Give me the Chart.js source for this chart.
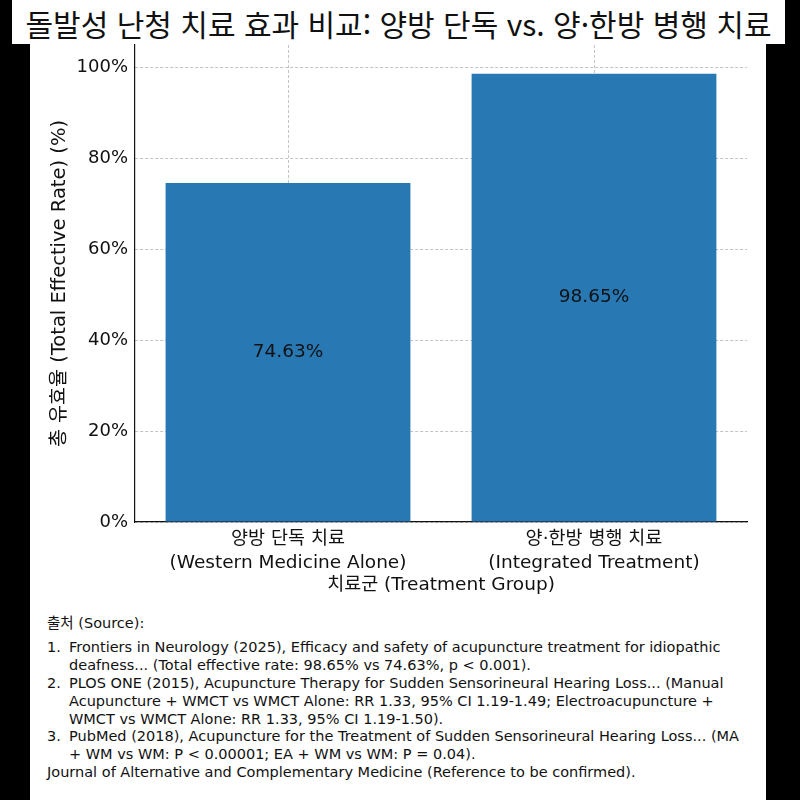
<!DOCTYPE html>
<html lang="ko">
<head>
    <meta charset="UTF-8">
    <title>돌발성 난청 치료 효과 비교</title>
    <style>
        body {
            margin: 0;
            width: 800px;
            height: 800px;
            background: #000;
            overflow: hidden;
            position: relative;
            font-family: "DejaVu Sans", "Noto Sans CJK KR", sans-serif;
            color: #111;
        }
        .title-box {
            position: absolute;
            left: 12px;
            top: 0;
            width: 773px;
            height: 44px;
            background: #fff;
            text-align: center;
            line-height: 46px;
            font-family: "Noto Sans CJK KR", sans-serif;
            font-size: 30px;
            white-space: nowrap;
        }
        .panel {
            position: absolute;
            left: 30px;
            top: 44px;
            width: 736px;
            height: 756px;
            background: #fff;
        }
        #chart {
            position: absolute;
            left: 0;
            top: 0;
        }
        .sources {
            position: absolute;
            left: 17px;
            top: 571px;
            width: 700px;
            font-size: 14.5px;
            line-height: 17.9px;
        }
        .sources .head {
            margin-bottom: 6px;
        }
        .ref {
            padding-left: 22px;
            text-indent: -22px;
        }
        .ref .n {
            display: inline-block;
            width: 22px;
            text-indent: 0;
        }
    </style>
    <script src="https://cdn.jsdelivr.net/npm/chart.js"></script>
</head>
<body>
    <div class="title-box">돌발성 난청 치료 효과 비교: 양방 단독 vs. 양·한방 병행 치료</div>
    <div class="panel">
        <canvas id="chart" width="736" height="556"></canvas>
        <div class="sources">
            <div class="head">출처 (Source):</div>
            <div class="ref"><span class="n">1.</span>Frontiers in Neurology (2025), Efficacy and safety of acupuncture treatment for idiopathic deafness... (Total effective rate: 98.65% vs 74.63%, p &lt; 0.001).</div>
            <div class="ref"><span class="n">2.</span>PLOS ONE (2015), Acupuncture Therapy for Sudden Sensorineural Hearing Loss... (Manual Acupuncture + WMCT vs WMCT Alone: RR 1.33, 95% CI 1.19-1.49; Electroacupuncture + WMCT vs WMCT Alone: RR 1.33, 95% CI 1.19-1.50).</div>
            <div class="ref"><span class="n">3.</span>PubMed (2018), Acupuncture for the Treatment of Sudden Sensorineural Hearing Loss... (MA + WM vs WM: P &lt; 0.00001; EA + WM vs WM: P = 0.04).</div>
            <div>Journal of Alternative and Complementary Medicine (Reference to be confirmed).</div>
        </div>
    </div>

    <script>
        const groups = [
            ['양방 단독 치료', '(Western Medicine Alone)'],
            ['양·한방 병행 치료', '(Integrated Treatment)']
        ];
        const effectiveRates = [74.63, 98.65];
        const yTickValues = [0, 20, 40, 60, 80, 100];
        const yMax = 105;

        const fontFamily = '"DejaVu Sans", "Noto Sans CJK KR", sans-serif';
        const gridColor = 'rgba(170, 170, 170, 0.7)';

        // value labels in the middle of each bar
        const barLabels = {
            id: 'barLabels',
            afterDraw(chart) {
                const ctx = chart.ctx;
                chart.getDatasetMeta(0).data.forEach((bar, i) => {
                    ctx.save();
                    ctx.font = '18.5px ' + fontFamily;
                    ctx.fillStyle = '#111';
                    ctx.textAlign = 'center';
                    ctx.textBaseline = 'middle';
                    ctx.fillText(effectiveRates[i].toFixed(2) + '%', bar.x, (bar.y + bar.base) / 2);
                    ctx.restore();
                });
            }
        };

        new Chart(document.getElementById('chart'), {
            type: 'bar',
            data: {
                labels: groups,
                datasets: [{
                    data: effectiveRates,
                    backgroundColor: '#2878b4',
                    borderWidth: 0,
                    barPercentage: 1,
                    categoryPercentage: 0.8
                }]
            },
            options: {
                responsive: false,
                animation: false,
                layout: { padding: { top: 1, right: 19, left: 0, bottom: 0 } },
                plugins: {
                    legend: { display: false },
                    tooltip: { enabled: false }
                },
                scales: {
                    x: {
                        z: 1,
                        grid: { offset: false, color: gridColor, drawTicks: false },
                        border: { color: '#111', width: 1.2, dash: [3, 2] },
                        ticks: {
                            color: '#111',
                            padding: 6,
                            maxRotation: 0,
                            font: { family: fontFamily, size: 18.5, lineHeight: 1.25 }
                        },
                        title: {
                            display: true,
                            text: '치료군 (Treatment Group)',
                            color: '#111',
                            font: { family: fontFamily, size: 18.5 },
                            padding: { top: 0, bottom: 4 }
                        },
                        afterFit: s => { s.height = 78; s.paddingLeft = 0; s.paddingRight = 0; }
                    },
                    y: {
                        z: 1,
                        min: 0,
                        max: yMax,
                        grid: { color: gridColor, drawTicks: false },
                        border: { color: '#111', width: 1.2, dash: [3, 2] },
                        ticks: {
                            color: '#111',
                            padding: 7,
                            font: { family: fontFamily, size: 18 },
                            callback: v => v + '%'
                        },
                        afterBuildTicks: s => { s.ticks = yTickValues.map(v => ({ value: v })); },
                        title: {
                            display: true,
                            text: '총 유효율 (Total Effective Rate) (%)',
                            color: '#111',
                            font: { family: fontFamily, size: 19.5 },
                            padding: { top: 18, bottom: 0 }
                        },
                        afterFit: s => { s.width = 105; s.paddingTop = 0; s.paddingBottom = 0; }
                    }
                }
            },
            plugins: [barLabels]
        });
    </script>
</body>
</html>
